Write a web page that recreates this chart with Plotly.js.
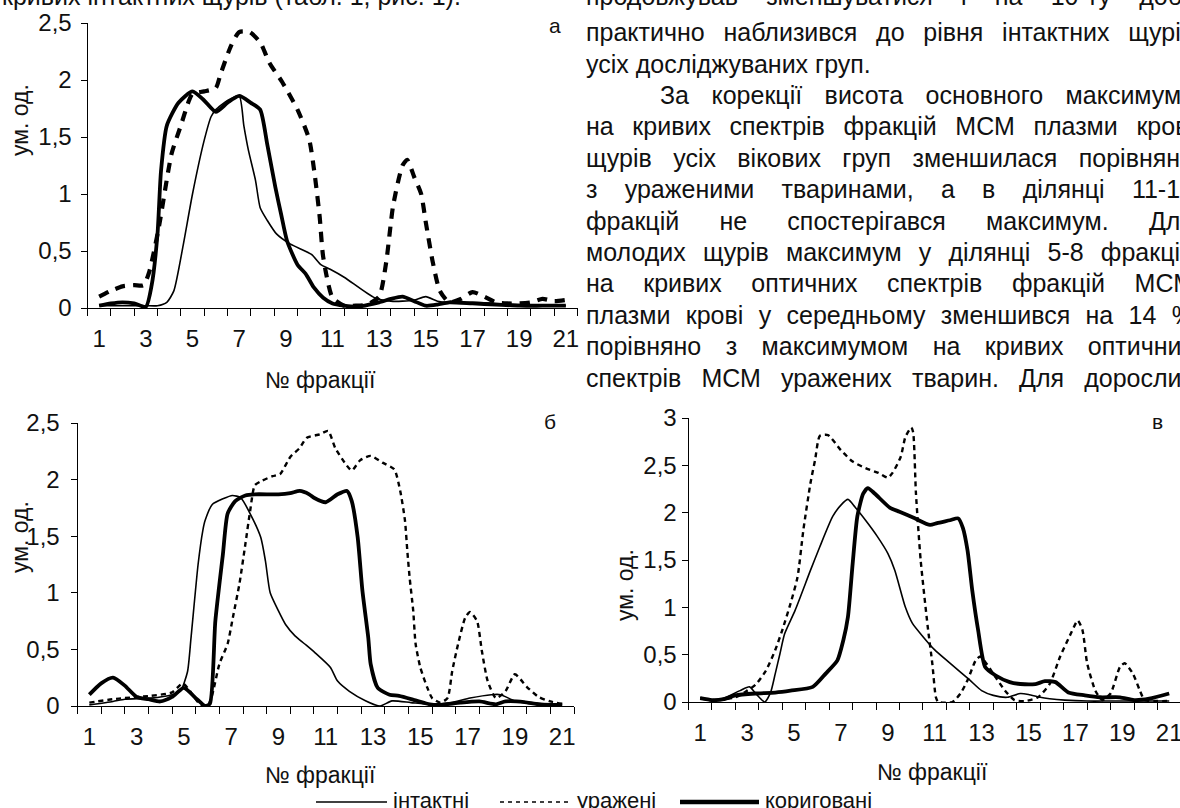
<!DOCTYPE html>
<html><head><meta charset="utf-8">
<script src="https://cdn.plot.ly/plotly-3.0.1.min.js"></script>
<style>html,body{margin:0;padding:0;background:#fff;overflow:hidden}#chart{width:1180px;height:808px}</style>
</head><body><div id="chart"></div>
<script>
// ---------- tick labels ----------
const tickFractions = [1,3,5,7,9,11,13,15,17,19,21];
const tickLabels = ['1','3','5','7','9','11','13','15','17','19','21'];
const boundaryTicks = [0.5,1.5,2.5,3.5,4.5,5.5,6.5,7.5,8.5,9.5,10.5,11.5,12.5,13.5,14.5,15.5,16.5,17.5,18.5,19.5,20.5,21.5];
const yTicks25 = [0,0.5,1,1.5,2,2.5];
const yLabels25 = ['0','0,5','1','1,5','2','2,5'];
const yTicks3 = [0,0.5,1,1.5,2,2.5,3];
const yLabels3 = ['0','0,5','1','1,5','2','2,5','3'];
const seriesNames = ['інтактні','уражені','кориговані'];

// ---------- chart а ----------
const aIntX = [1,2,3,3.5,3.9,4.2,4.6,5,5.5,5.8,6,6.5,7,7.2,7.4,7.7,7.9,8.2,8.6,9.2,10.1,10.5,10.9,11.5,12.8,13.5,14,14.5,15,15.5,16,17,18,19,20,21];
const aIntY = [0.02,0.02,0.02,0.02,0.05,0.15,0.55,1.0,1.47,1.68,1.74,1.82,1.86,1.6,1.38,1.12,0.88,0.77,0.65,0.56,0.47,0.38,0.34,0.27,0.09,0.06,0.06,0.07,0.1,0.06,0.05,0.05,0.04,0.03,0.02,0.02];
const aAffX = [1,1.5,2,2.5,2.9,3.15,3.55,4.1,4.5,4.85,5,5.5,6,6.2,6.65,7,7.45,7.9,8.3,8.85,9.5,10,10.25,10.45,10.6,11,11.5,12,12.5,13,13.3,13.6,14,14.2,14.5,14.8,15,15.3,15.6,16,16.5,17,17.5,18,18.5,19,19.5,20,20.5,21];
const aAffY = [0.1,0.15,0.19,0.2,0.2,0.32,0.7,1.35,1.6,1.82,1.88,1.9,1.93,2.05,2.3,2.42,2.42,2.33,2.15,1.98,1.74,1.48,1.15,0.8,0.45,0.09,0.02,0.02,0.03,0.1,0.4,0.9,1.25,1.3,1.15,1.0,0.75,0.4,0.15,0.05,0.08,0.14,0.1,0.05,0.04,0.04,0.05,0.08,0.06,0.07];
const aCorX = [1,1.5,2,2.5,3,3.25,3.5,3.65,3.9,4.4,5,5.5,6,6.5,7,7.5,7.9,8.2,8.55,8.8,9.05,9.5,9.85,10.2,10.6,11,11.5,12,13,13.5,14,14.5,15,15.5,16,17,18,19,20,21];
const aCorY = [0.02,0.04,0.05,0.04,0.01,0.2,0.65,1.2,1.6,1.8,1.9,1.82,1.72,1.8,1.86,1.8,1.74,1.44,1.06,0.82,0.59,0.38,0.3,0.18,0.09,0.04,0.02,0.01,0.05,0.08,0.1,0.06,0.02,0.03,0.05,0.04,0.03,0.02,0.02,0.02];

// ---------- chart б ----------
const bIntX = [1,2,2.5,3.6,4.5,4.85,5.15,5.3,5.6,5.8,5.9,6.2,6.65,7.05,7.4,7.8,8.25,8.45,8.65,9,9.3,9.7,10.1,10.55,11.2,11.5,12,12.7,13.3,13.8,14.6,15.4,16.3,17.1,18,18.4,19,19.6,20.3,21];
const bIntY = [0.01,0.04,0.06,0.07,0.1,0.13,0.3,0.6,1.25,1.55,1.64,1.78,1.83,1.86,1.84,1.7,1.49,1.28,1.0,0.84,0.72,0.62,0.55,0.47,0.34,0.22,0.13,0.045,0.0,0.045,0.03,0.015,0.03,0.07,0.1,0.1,0.045,0.03,0.02,0.01];
const bAffX = [1,2,2.5,3.6,4.5,4.95,5.3,5.7,6,6.2,6.5,6.85,7.07,7.35,7.6,7.8,8,8.3,8.75,9.07,9.5,9.9,10.2,10.75,11.1,11.4,11.8,12.1,12.45,12.9,13.4,13.9,14.15,14.35,14.45,14.55,14.7,14.8,15,15.3,15.5,15.85,16.15,16.35,16.6,16.9,17.1,17.4,17.6,17.85,18.2,18.6,19,19.5,20,20.5,21];
const bAffY = [0.03,0.06,0.07,0.09,0.12,0.2,0.12,0.01,0.0,0.1,0.37,0.55,0.78,1.08,1.43,1.72,1.95,1.99,2.03,2.05,2.2,2.28,2.37,2.4,2.43,2.28,2.15,2.08,2.17,2.21,2.15,2.09,1.9,1.64,1.37,1.13,0.84,0.55,0.34,0.16,0.07,0.03,0.07,0.31,0.55,0.78,0.83,0.75,0.49,0.22,0.07,0.13,0.28,0.17,0.08,0.04,0.02];
const bCorX = [1,1.5,2,2.5,3,3.5,4,4.5,5,5.5,5.9,6.1,6.33,6.65,6.85,7.17,7.6,8,9,9.5,9.9,10.3,10.5,11,11.5,11.9,12.1,12.35,12.55,12.8,12.9,13.2,13.7,14.1,14.8,15.4,15.85,16.7,17.5,18.2,18.6,19.4,20,21];
const bCorY = [0.1,0.2,0.25,0.18,0.08,0.06,0.04,0.08,0.16,0.07,0.0,0.02,0.75,1.34,1.7,1.81,1.86,1.87,1.87,1.88,1.9,1.87,1.84,1.8,1.87,1.9,1.81,1.49,1.02,0.6,0.37,0.16,0.1,0.09,0.05,0.015,0.01,0.03,0.04,0.015,0.04,0.035,0.015,0.01];

// ---------- chart в ----------
const cIntX = [1,1.5,2,2.7,3.1,3.4,3.75,4,4.2,4.4,4.6,5.05,5.7,6.1,6.65,7,7.3,7.6,8.05,8.55,9,9.3,9.75,10.05,10.5,11,11.65,12.5,13,13.5,14.1,14.65,15,15.5,15.9,16.55,17.5,18.5,19.5,20.5,21];
const cIntY = [0.05,0.01,0.04,0.12,0.16,0.08,0.0,0.1,0.3,0.51,0.72,0.97,1.39,1.64,1.96,2.08,2.14,2.06,1.92,1.75,1.57,1.39,1.0,0.83,0.69,0.55,0.41,0.23,0.12,0.07,0.05,0.09,0.08,0.05,0.035,0.02,0.01,0.01,0.01,0.01,0.01];
const cAffX = [1,1.5,2.5,3,3.35,3.8,4.2,4.5,4.85,5.15,5.4,5.7,5.9,6.1,6.45,7,7.5,8.05,8.6,9,9.2,9.55,9.75,10,10.08,10.2,10.4,10.7,10.9,11.05,11.15,11.75,12.1,12.4,12.75,12.95,13.6,14,14.4,14.85,15.4,15.9,16.35,16.8,17.1,17.3,17.5,17.85,18.15,18.5,18.9,19.1,19.45,19.75,19.95,20.5,21];
const cAffY = [0.04,0.02,0.05,0.12,0.18,0.33,0.55,0.76,1.04,1.32,1.82,2.31,2.56,2.81,2.82,2.66,2.54,2.47,2.42,2.37,2.42,2.59,2.8,2.9,2.85,2.2,1.5,0.8,0.4,0.05,0.0,0.0,0.09,0.23,0.44,0.48,0.26,0.12,0.02,0.01,0.05,0.19,0.48,0.72,0.86,0.76,0.41,0.12,0.02,0.09,0.37,0.41,0.3,0.12,0.02,0.01,0.01];
const cCorX = [1,1.5,2,2.5,3.35,4.2,4.85,5.8,6.35,6.85,7.1,7.3,7.5,7.7,7.95,8.15,8.45,9.1,9.5,10.15,10.8,11.1,11.65,12,12.2,12.4,12.6,12.85,13.15,13.6,14.2,14.65,15.3,15.7,16.15,16.7,17.4,18.05,18.9,19.5,20.15,21];
const cCorY = [0.04,0.02,0.03,0.07,0.09,0.1,0.12,0.16,0.3,0.44,0.65,0.9,1.46,1.96,2.2,2.26,2.2,2.05,2.01,1.94,1.87,1.89,1.92,1.94,1.84,1.6,1.18,0.76,0.37,0.28,0.21,0.19,0.19,0.22,0.21,0.1,0.07,0.05,0.05,0.02,0.035,0.09];

// ---------- text ----------
const topLeftLine = 'кривих інтактних щурів (табл. 1, рис. 1).';
const bodyLines = [
  'продовжував зменшуватися і на 10-ту добу',
  'практично наблизився до рівня інтактних щурів',
  'усіх досліджуваних груп.',
  'За корекції висота основного максимуму',
  'на кривих спектрів фракцій МСМ плазми крові',
  'щурів усіх вікових груп зменшилася порівняно',
  'з ураженими тваринами, а в ділянці 11-15',
  'фракцій не спостерігався максимум. Для',
  'молодих щурів максимум у ділянці 5-8 фракцій',
  'на кривих оптичних спектрів фракцій МСМ',
  'плазми крові у середньому зменшився на 14 %',
  'порівняно з максимумом на кривих оптичних',
  'спектрів МСМ уражених тварин. Для дорослих'
];
const panelLetters = ['а','б','в'];
const yTitle = 'ум. од.';
const xTitle = '№ фракції';

// ---------- helpers ----------
const W = 1180, H = 808;
const px = v => v / W;
const py = v => 1 - v / H;
const FONT = 'Liberation Sans, Arial, sans-serif';
const INK = '#111';

function line(x, y, ax, kind, dashThick) {
  const st = {
    thin: {width: 1.6, dash: 'solid'},
    dash: dashThick ? {width: 4.2, dash: '10px,8px'} : {width: 2.4, dash: '5px,4px'},
    thick: {width: 3.8, dash: 'solid'}
  }[kind];
  return {
    x: x, y: y, xaxis: 'x' + ax, yaxis: 'y' + ax, type: 'scatter', mode: 'lines',
    line: {color: '#000', width: st.width, dash: st.dash, shape: 'spline', smoothing: 0.6},
    cliponaxis: false, showlegend: false, hoverinfo: 'skip'
  };
}

const data = [
  line(aIntX, aIntY, '', 'thin'),
  line(aAffX, aAffY, '', 'dash', true),
  line(aCorX, aCorY, '', 'thick'),
  line(bIntX, bIntY, '2', 'thin'),
  line(bAffX, bAffY, '2', 'dash'),
  line(bCorX, bCorY, '2', 'thick'),
  line(cIntX, cIntY, '3', 'thin'),
  line(cAffX, cAffY, '3', 'dash'),
  line(cCorX, cCorY, '3', 'thick')
];

function xAx(dom, range, anchor) {
  return {
    domain: dom, range: range, anchor: anchor, fixedrange: true,
    tickmode: 'array', tickvals: tickFractions, ticktext: tickLabels,
    ticks: '', ticklabelstandoff: 9, ticklabeloverflow: 'allow',
    showline: true, linecolor: '#000', linewidth: 1,
    showgrid: false, zeroline: false,
    tickfont: {family: FONT, size: 24, color: INK},
    minor: {tickmode: 'array', tickvals: boundaryTicks, ticks: 'outside', ticklen: 7, tickwidth: 1, tickcolor: '#000', showgrid: false}
  };
}
function yAx(dom, range, anchor, tv, tt, standoff) {
  return {
    domain: dom, range: range, anchor: anchor, fixedrange: true,
    tickmode: 'array', tickvals: tv, ticktext: tt,
    ticks: 'outside', ticklen: 6, tickwidth: 1, tickcolor: '#000',
    ticklabelstandoff: standoff,
    showline: true, linecolor: '#000', linewidth: 1,
    showgrid: false, zeroline: false,
    tickfont: {family: FONT, size: 24, color: INK}
  };
}

const ann = [];
function txt(t, x, y, size, opts) {
  ann.push(Object.assign({text: t, x: px(x), y: py(y), xref: 'paper', yref: 'paper',
    showarrow: false, xanchor: 'center', yanchor: 'middle',
    font: {family: FONT, size: size, color: INK}}, opts || {}));
}
// panel letters
txt(panelLetters[0], 555, 25, 21);
txt(panelLetters[1], 550, 421, 21);
txt(panelLetters[2], 1157, 421, 21);
// axis titles
txt(yTitle, 20, 120, 23, {textangle: -90});
txt(yTitle, 20, 537, 23, {textangle: -90});
txt(yTitle, 625, 585, 23, {textangle: -90});
txt(xTitle, 320, 380, 23);
txt(xTitle, 320, 775, 23);
txt(xTitle, 932, 772, 23);
// page text
const BODY = 25;
txt(topLeftLine, 0, -4, BODY, {xanchor: 'left', align: 'left'});
const bodyY = [-4, 32, 63.5, 95, 126.5, 157.8, 189.2, 220.6, 252, 283.4, 314.8, 346.2, 377.6];
bodyLines.forEach((t, i) => {
  const left = (i === 3) ? 658 : 584;
  txt(t, left, bodyY[i], BODY, {xanchor: 'left', align: 'left'});
});
// legend texts
txt(seriesNames[0], 391, 800, 22, {xanchor: 'left', align: 'left'});
txt(seriesNames[1], 575, 800, 22, {xanchor: 'left', align: 'left'});
txt(seriesNames[2], 763, 800, 22, {xanchor: 'left', align: 'left'});

const shapes = [
  {type: 'line', xref: 'paper', yref: 'paper', x0: px(316), x1: px(387), y0: py(802), y1: py(802), line: {color: '#000', width: 1.6}},
  {type: 'line', xref: 'paper', yref: 'paper', x0: px(500), x1: px(571), y0: py(802), y1: py(802), line: {color: '#000', width: 1.6, dash: '4px,4px'}},
  {type: 'line', xref: 'paper', yref: 'paper', x0: px(680), x1: px(759), y0: py(802), y1: py(802), line: {color: '#000', width: 4.5}}
];

const layout = {
  width: W, height: H, autosize: false,
  margin: {l: 0, r: 0, t: 0, b: 0, pad: 0},
  paper_bgcolor: '#fff', plot_bgcolor: 'rgba(0,0,0,0)',
  showlegend: false,
  font: {family: FONT, color: INK},
  xaxis: xAx([px(87.5), px(577.5)], [0.5, 21.5], 'y'),
  yaxis: yAx([py(308), py(23)], [0, 2.5], 'x', yTicks25, yLabels25, 4),
  xaxis2: xAx([px(77.5), px(574)], [0.5, 21.5], 'y2'),
  yaxis2: yAx([py(706), py(423)], [0, 2.5], 'x2', yTicks25, yLabels25, 6),
  xaxis3: xAx([px(688.5), 1], [0.5, 21.46], 'y3'),
  yaxis3: yAx([py(702), py(418)], [0, 3], 'x3', yTicks3, yLabels3, 0),
  annotations: ann,
  shapes: shapes
};

Plotly.newPlot('chart', data, layout, {staticPlot: true, displayModeBar: false}).then(function (gd) {
  try {
    const rightEdge = 1192;
    const nodes = gd.querySelectorAll('text.annotation-text');
    nodes.forEach(function (t) {
      const s = t.textContent;
      const idx = bodyLines.indexOf(s);
      if (idx < 0 || idx === 2) return;
      const left = (idx === 3) ? 658 : 584;
      const target = rightEdge - left;
      const natural = t.getComputedTextLength();
      const spaces = (s.match(/ /g) || []).length;
      if (spaces > 0) t.style.wordSpacing = ((target - natural) / spaces) + 'px';
    });
  } catch (e) {}
});
</script></body></html>
